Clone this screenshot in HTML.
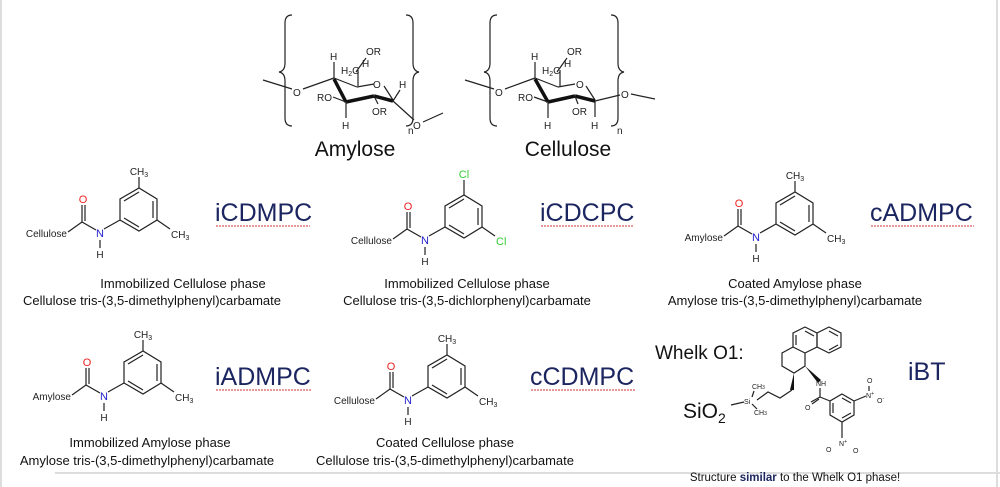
<!DOCTYPE html>
<html><head><meta charset="utf-8"><style>
html,body{margin:0;padding:0;background:#fff;}
svg{display:block;font-family:"Liberation Sans",Arial,sans-serif;}
.b{stroke:#222;stroke-width:1.2;fill:none}
.bb{stroke:#111;stroke-width:3.5;fill:none}
.s{font-size:10px;fill:#222}
.lab{font-size:25px;fill:#1b2560}
.cap{font-size:13px;fill:#111;text-anchor:middle}
.w{stroke:#c33;stroke-width:1;fill:none;stroke-dasharray:2 1}
.t{font-size:7px;fill:#222}
</style></head><body>
<svg width="1000" height="487" viewBox="0 0 1000 487" xmlns="http://www.w3.org/2000/svg">
<line x1="1" y1="0" x2="1" y2="487" stroke="#ddd" stroke-width="2"/>
<line x1="997" y1="0" x2="997" y2="487" stroke="#ddd" stroke-width="2"/>
<line x1="55" y1="473" x2="1000" y2="473" stroke="#ddd" stroke-width="2"/>

<!-- Amylose sugar -->
<g>
<path class="b" d="M292,15 q-7,0 -7,8 v40 q0,8 -6,9 q6,1 6,9 v37 q0,8 7,8"/>
<path class="b" d="M406,15 q7,0 7,8 v40 q0,8 6,9 q-6,1 -6,9 v37 q0,8 -7,8"/>
<line class="b" x1="263" y1="80" x2="292" y2="89"/>
<text x="293" y="96" class="s" font-size="11">O</text>
<line class="b" x1="303" y1="89" x2="334" y2="78"/>
<line class="b" x1="334" y1="78" x2="334" y2="62"/><text x="330" y="60" class="s">H</text>
<line class="b" x1="334" y1="78" x2="357" y2="87"/>
<line class="b" x1="357" y1="87" x2="374" y2="84"/>
<text x="373" y="88" class="s" font-size="11">O</text>
<line class="b" x1="384" y1="86" x2="393" y2="100"/>
<line class="bb" x1="334" y1="79" x2="346" y2="102"/>
<line class="bb" x1="346" y1="102" x2="374" y2="96"/>
<line class="bb" x1="374" y1="96" x2="393" y2="101"/>
<text x="317" y="101" class="s">RO</text><line class="b" x1="333" y1="97" x2="346" y2="102"/>
<line class="b" x1="346" y1="102" x2="346" y2="118"/><text x="342" y="129" class="s">H</text>
<line class="b" x1="374" y1="96" x2="378" y2="104"/><text x="372" y="115" class="s">OR</text>
<text x="341" y="74" class="s">H<tspan font-size="7" dy="2">2</tspan><tspan dy="-2">C</tspan></text>
<line class="b" x1="356" y1="72" x2="366" y2="58"/><text x="366" y="55" class="s">OR</text>
<line class="b" x1="358" y1="86" x2="358" y2="70"/><text x="362" y="67" class="s">H</text>
<line class="b" x1="393" y1="101" x2="400" y2="90"/><text x="399" y="88" class="s">H</text>
<line class="b" x1="393" y1="101" x2="414" y2="120"/>
<text x="413" y="129" class="s" font-size="11">O</text>
<line class="b" x1="423" y1="122" x2="443" y2="113"/>
<text x="408" y="134" class="s" font-size="9">n</text>
</g>
<text x="355" y="156" text-anchor="middle" font-size="21" fill="#111">Amylose</text>

<!-- Cellulose sugar -->
<g>
<path class="b" d="M497,15 q-7,0 -7,8 v40 q0,8 -6,9 q6,1 6,9 v37 q0,8 7,8"/>
<path class="b" d="M611,15 q7,0 7,8 v40 q0,8 6,9 q-6,1 -6,9 v37 q0,8 -7,8"/>
<line class="b" x1="465" y1="80" x2="494" y2="89"/>
<text x="495" y="96" class="s" font-size="11">O</text>
<line class="b" x1="505" y1="89" x2="535" y2="78"/>
<line class="b" x1="535" y1="78" x2="535" y2="62"/><text x="531" y="60" class="s">H</text>
<line class="b" x1="535" y1="78" x2="558" y2="87"/>
<line class="b" x1="558" y1="87" x2="575" y2="84"/>
<text x="576" y="88" class="s" font-size="11">O</text>
<line class="b" x1="586" y1="86" x2="595" y2="100"/>
<line class="bb" x1="535" y1="79" x2="548" y2="102"/>
<line class="bb" x1="548" y1="102" x2="575" y2="96"/>
<line class="bb" x1="575" y1="96" x2="595" y2="101"/>
<text x="518" y="101" class="s">RO</text><line class="b" x1="534" y1="97" x2="548" y2="102"/>
<line class="b" x1="548" y1="102" x2="548" y2="118"/><text x="544" y="129" class="s">H</text>
<line class="b" x1="575" y1="96" x2="578" y2="104"/><text x="572" y="115" class="s">OR</text>
<text x="542" y="74" class="s">H<tspan font-size="7" dy="2">2</tspan><tspan dy="-2">C</tspan></text>
<line class="b" x1="557" y1="72" x2="567" y2="58"/><text x="567" y="55" class="s">OR</text>
<line class="b" x1="560" y1="86" x2="560" y2="70"/><text x="564" y="67" class="s">H</text>
<line class="b" x1="595" y1="101" x2="595" y2="117"/><text x="591" y="129" class="s">H</text>
<line class="b" x1="595" y1="101" x2="620" y2="95"/>
<text x="621" y="98" class="s" font-size="11">O</text>
<line class="b" x1="631" y1="94" x2="655" y2="99"/>
<text x="617" y="134" class="s" font-size="9">n</text>
</g>
<text x="568" y="156" text-anchor="middle" font-size="21" fill="#111">Cellulose</text>

<!-- Carbamate 1 -->
<g transform="translate(0,0)">
<text x="67" y="237" class="s" text-anchor="end" font-size="9.5">Cellulose</text>
<line class="b" x1="68" y1="232" x2="82" y2="222"/>
<line class="b" x1="82" y1="222" x2="82" y2="205"/><line class="b" x1="85" y1="221" x2="85" y2="205"/>
<text x="83" y="203" font-size="11" fill="#e22" text-anchor="middle">O</text>
<line class="b" x1="82" y1="222" x2="96" y2="230"/>
<text x="100" y="237" font-size="11" fill="#22c" text-anchor="middle">N</text>
<line class="b" x1="100" y1="240" x2="100" y2="248"/>
<text x="100" y="258" class="s" text-anchor="middle">H</text>
<line class="b" x1="104" y1="229" x2="120" y2="220"/>
<polygon class="b" points="120,220 120,199 139,188 157,199 157,220 139,231"/>
<line class="b" x1="124" y1="201" x2="139" y2="192"/><line class="b" x1="153" y1="201" x2="153" y2="218"/><line class="b" x1="124" y1="218" x2="139" y2="227"/>
<line class="b" x1="139" y1="188" x2="139" y2="177"/>
<text x="139" y="175" class="s" text-anchor="middle">CH<tspan font-size="7" dy="2">3</tspan></text>
<line class="b" x1="157" y1="220" x2="170" y2="229"/>
<text x="171" y="238" class="s">CH<tspan font-size="7" dy="2">3</tspan></text>
</g>
<text x="215" y="221" class="lab">iCDMPC</text><path class="w" d="M216,226 h94"/>
<text x="183" y="288" class="cap">Immobilized Cellulose phase</text>
<text x="152" y="305" class="cap">Cellulose tris-(3,5-dimethylphenyl)carbamate</text>

<!-- Carbamate 2 -->
<g transform="translate(325,7)">
<text x="67" y="237" class="s" text-anchor="end" font-size="9.5">Cellulose</text>
<line class="b" x1="68" y1="232" x2="82" y2="222"/>
<line class="b" x1="82" y1="222" x2="82" y2="205"/><line class="b" x1="85" y1="221" x2="85" y2="205"/>
<text x="83" y="203" font-size="11" fill="#e22" text-anchor="middle">O</text>
<line class="b" x1="82" y1="222" x2="96" y2="230"/>
<text x="100" y="237" font-size="11" fill="#22c" text-anchor="middle">N</text>
<line class="b" x1="100" y1="240" x2="100" y2="248"/>
<text x="100" y="258" class="s" text-anchor="middle">H</text>
<line class="b" x1="104" y1="229" x2="120" y2="220"/>
<polygon class="b" points="120,220 120,199 139,188 157,199 157,220 139,231"/>
<line class="b" x1="124" y1="201" x2="139" y2="192"/><line class="b" x1="153" y1="201" x2="153" y2="218"/><line class="b" x1="124" y1="218" x2="139" y2="227"/>
<line class="b" x1="139" y1="188" x2="139" y2="173"/>
<text x="139" y="171" font-size="11" fill="#3c3" text-anchor="middle">Cl</text>
<line class="b" x1="157" y1="220" x2="170" y2="229"/>
<text x="171" y="238" font-size="11" fill="#3c3">Cl</text>
</g>
<text x="540" y="221" class="lab">iCDCPC</text><path class="w" d="M541,226 h93"/>
<text x="467" y="288" class="cap">Immobilized Cellulose phase</text>
<text x="467" y="305" class="cap">Cellulose tris-(3,5-dichlorphenyl)carbamate</text>

<!-- Carbamate 3 -->
<g transform="translate(656,4)">
<text x="67" y="237" class="s" text-anchor="end" font-size="9.5">Amylose</text>
<line class="b" x1="68" y1="232" x2="82" y2="222"/>
<line class="b" x1="82" y1="222" x2="82" y2="205"/><line class="b" x1="85" y1="221" x2="85" y2="205"/>
<text x="83" y="203" font-size="11" fill="#e22" text-anchor="middle">O</text>
<line class="b" x1="82" y1="222" x2="96" y2="230"/>
<text x="100" y="237" font-size="11" fill="#22c" text-anchor="middle">N</text>
<line class="b" x1="100" y1="240" x2="100" y2="248"/>
<text x="100" y="258" class="s" text-anchor="middle">H</text>
<line class="b" x1="104" y1="229" x2="120" y2="220"/>
<polygon class="b" points="120,220 120,199 139,188 157,199 157,220 139,231"/>
<line class="b" x1="124" y1="201" x2="139" y2="192"/><line class="b" x1="153" y1="201" x2="153" y2="218"/><line class="b" x1="124" y1="218" x2="139" y2="227"/>
<line class="b" x1="139" y1="188" x2="139" y2="177"/>
<text x="139" y="175" class="s" text-anchor="middle">CH<tspan font-size="7" dy="2">3</tspan></text>
<line class="b" x1="157" y1="220" x2="170" y2="229"/>
<text x="171" y="238" class="s">CH<tspan font-size="7" dy="2">3</tspan></text>
</g>
<text x="870" y="221" class="lab">cADMPC</text><path class="w" d="M871,226 h103"/>
<text x="795" y="288" class="cap">Coated Amylose phase</text>
<text x="795" y="305" class="cap">Amylose tris-(3,5-dimethylphenyl)carbamate</text>

<!-- Carbamate 4 -->
<g transform="translate(4,163)">
<text x="67" y="237" class="s" text-anchor="end" font-size="9.5">Amylose</text>
<line class="b" x1="68" y1="232" x2="82" y2="222"/>
<line class="b" x1="82" y1="222" x2="82" y2="205"/><line class="b" x1="85" y1="221" x2="85" y2="205"/>
<text x="83" y="203" font-size="11" fill="#e22" text-anchor="middle">O</text>
<line class="b" x1="82" y1="222" x2="96" y2="230"/>
<text x="100" y="237" font-size="11" fill="#22c" text-anchor="middle">N</text>
<line class="b" x1="100" y1="240" x2="100" y2="248"/>
<text x="100" y="258" class="s" text-anchor="middle">H</text>
<line class="b" x1="104" y1="229" x2="120" y2="220"/>
<polygon class="b" points="120,220 120,199 139,188 157,199 157,220 139,231"/>
<line class="b" x1="124" y1="201" x2="139" y2="192"/><line class="b" x1="153" y1="201" x2="153" y2="218"/><line class="b" x1="124" y1="218" x2="139" y2="227"/>
<line class="b" x1="139" y1="188" x2="139" y2="177"/>
<text x="139" y="175" class="s" text-anchor="middle">CH<tspan font-size="7" dy="2">3</tspan></text>
<line class="b" x1="157" y1="220" x2="170" y2="229"/>
<text x="171" y="238" class="s">CH<tspan font-size="7" dy="2">3</tspan></text>
</g>
<text x="215" y="385" class="lab">iADMPC</text><path class="w" d="M216,390 h95"/>
<text x="150" y="447" class="cap">Immobilized Amylose phase</text>
<text x="147" y="465" class="cap">Amylose tris-(3,5-dimethylphenyl)carbamate</text>

<!-- Carbamate 5 -->
<g transform="translate(308,167)">
<text x="67" y="237" class="s" text-anchor="end" font-size="9.5">Cellulose</text>
<line class="b" x1="68" y1="232" x2="82" y2="222"/>
<line class="b" x1="82" y1="222" x2="82" y2="205"/><line class="b" x1="85" y1="221" x2="85" y2="205"/>
<text x="83" y="203" font-size="11" fill="#e22" text-anchor="middle">O</text>
<line class="b" x1="82" y1="222" x2="96" y2="230"/>
<text x="100" y="237" font-size="11" fill="#22c" text-anchor="middle">N</text>
<line class="b" x1="100" y1="240" x2="100" y2="248"/>
<text x="100" y="258" class="s" text-anchor="middle">H</text>
<line class="b" x1="104" y1="229" x2="120" y2="220"/>
<polygon class="b" points="120,220 120,199 139,188 157,199 157,220 139,231"/>
<line class="b" x1="124" y1="201" x2="139" y2="192"/><line class="b" x1="153" y1="201" x2="153" y2="218"/><line class="b" x1="124" y1="218" x2="139" y2="227"/>
<line class="b" x1="139" y1="188" x2="139" y2="177"/>
<text x="139" y="175" class="s" text-anchor="middle">CH<tspan font-size="7" dy="2">3</tspan></text>
<line class="b" x1="157" y1="220" x2="170" y2="229"/>
<text x="171" y="238" class="s">CH<tspan font-size="7" dy="2">3</tspan></text>
</g>
<text x="530" y="385" class="lab">cCDMPC</text><path class="w" d="M531,390 h104"/>
<text x="445" y="447" class="cap">Coated Cellulose phase</text>
<text x="445" y="465" class="cap">Cellulose tris-(3,5-dimethylphenyl)carbamate</text>

<!-- Whelk O1 -->
<text x="655" y="359" font-size="19" fill="#111">Whelk O1:</text>
<text x="908" y="380" class="lab" font-size="26">iBT</text>
<text x="683" y="418" font-size="21" fill="#111">SiO<tspan font-size="14" dy="5">2</tspan></text>
<!-- aromatic rings -->
<polygon class="b" points="805,327 817,333 817,347 805,353 793,347 793,333"/>
<line class="b" x1="805" y1="331" x2="814" y2="336"/><line class="b" x1="796" y1="345" x2="796" y2="335"/>
<polygon class="b" points="829,327 841,333 841,347 829,353 817,347 817,333"/>
<line class="b" x1="829" y1="331" x2="838" y2="336"/><line class="b" x1="838" y1="345" x2="829" y2="350"/>
<!-- saturated ring -->
<polyline class="b" points="793,347 782,353 782,366 794,373 805,366 805,353"/>
<!-- wedges -->
<polygon points="805,366 821,380 818,383" fill="#111"/>
<polygon points="794,373 790,390 794,390" fill="#111"/>
<polyline class="b" points="792,390 780,398 768,392 757,400"/>
<text x="744" y="404" class="t">Si</text>
<text x="752" y="389" class="t">CH<tspan font-size="5">3</tspan></text>
<text x="754" y="415" class="t">CH<tspan font-size="5">3</tspan></text>
<line class="b" x1="752" y1="397" x2="754" y2="391"/>
<line class="b" x1="752" y1="404" x2="757" y2="409"/>
<line class="b" x1="731" y1="405" x2="744" y2="402"/>
<text x="816" y="386" class="t">NH</text>
<line class="b" x1="820" y1="388" x2="820" y2="397"/>
<line class="b" x1="820" y1="397" x2="811" y2="402"/><line class="b" x1="819" y1="399" x2="812" y2="404"/>
<text x="805" y="410" class="t">O</text>
<line class="b" x1="820" y1="397" x2="830" y2="401"/>
<polygon class="b" points="842,394 854,401 854,415 842,422 830,415 830,401"/>
<line class="b" x1="842" y1="398" x2="851" y2="403"/><line class="b" x1="833" y1="413" x2="833" y2="403"/><line class="b" x1="851" y1="413" x2="842" y2="418"/>
<line class="b" x1="854" y1="401" x2="866" y2="396"/>
<text x="866" y="398" class="t">N<tspan font-size="5" dy="-3">+</tspan></text>
<line class="b" x1="869" y1="391" x2="869" y2="386"/>
<text x="867" y="383" class="t">O</text>
<text x="877" y="403" class="t">O<tspan font-size="5" dy="-3">-</tspan></text>
<line class="b" x1="842" y1="422" x2="842" y2="438"/>
<text x="839" y="446" class="t">N<tspan font-size="5" dy="-3">+</tspan></text>
<text x="826" y="452" class="t">O</text>
<text x="853" y="453" class="t">O</text>
<text x="795" y="481" font-size="11.5" fill="#111" text-anchor="middle">Structure <tspan fill="#1b2560" font-weight="bold">similar</tspan> to the Whelk O1 phase!</text>
</svg>
</body></html>
